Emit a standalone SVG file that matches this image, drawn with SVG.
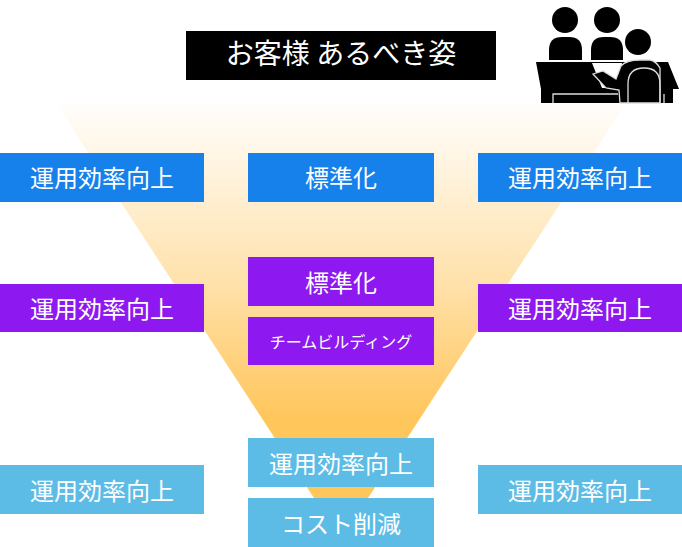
<svg xmlns="http://www.w3.org/2000/svg" width="682" height="547" viewBox="0 0 682 547">
<style>
text{font-family:"Noto Sans CJK JP","Noto Sans CJK SC",sans-serif;fill:#fff;text-anchor:middle;font-size:24px}
.b{fill:#1781eb}.p{fill:#8e19f0}.c{fill:#5cbce6}
.l{fill:none;stroke:#ddd;stroke-width:1.3}
</style>
<defs><linearGradient id="g" x1="0" y1="0" x2="0" y2="1"><stop offset="0" stop-color="#ffc65c" stop-opacity="0"/><stop offset="0.45" stop-color="#ffc65c" stop-opacity="0.5"/><stop offset="0.8" stop-color="#ffc65c"/><stop offset="1" stop-color="#ffc65c"/></linearGradient></defs>
<rect width="682" height="547" fill="#fff"/>
<g id="funnel"><polygon points="52,97 630,97 368,498 314,498" fill="url(#g)"/></g>
<g id="title"><rect x="186" y="31" width="310" height="49" fill="#000"/><text x="341" y="64" style="font-size:28px">お客様 あるべき姿</text></g>
<g id="people">
<circle cx="565" cy="20" r="13"/><circle cx="607" cy="20" r="13"/><circle cx="638" cy="42" r="13"/>
<path d="M549,60V50Q549,37 562,37H569Q582,37 582,50V60Z"/><path d="M591,60V50Q591,37 604,37H610Q623,37 623,50V60Z"/>
<path d="M536,62H668L679,89H673V103H541V89Z"/>
<path d="M592,63H622L621,88H602Z" fill="#fff"/>
<path d="M593,74L603,71L616,79L621,66Q626,60 640,60H650Q656,61 660,68V103H620L619,90L606,88Z" fill="#000" stroke="#ddd" stroke-width="1.3"/>
<path class="l" d="M628,103V84Q628,68 644,68Q660,68 660,84V103"/>
<path class="l" d="M553,103V94H618M664,103V94"/>
</g>
<g id="n1"><rect class="b" x="0" y="153" width="204" height="49"/><text x="102" y="187">運用効率向上</text></g>
<g id="n2"><rect class="b" x="248" y="153" width="186" height="49"/><text x="341" y="187">標準化</text></g>
<g id="n3"><rect class="b" x="478" y="153" width="204" height="49"/><text x="580" y="187">運用効率向上</text></g>
<g id="n4"><rect class="p" x="0" y="284" width="204" height="48"/><text x="102" y="318">運用効率向上</text></g>
<g id="n5"><rect class="p" x="248" y="257" width="186" height="49"/><text x="341" y="292">標準化</text></g>
<g id="n6"><rect class="p" x="248" y="317" width="186" height="48"/><text x="341" y="348" style="font-size:16px">チームビルディング</text></g>
<g id="n7"><rect class="p" x="478" y="284" width="204" height="48"/><text x="580" y="318">運用効率向上</text></g>
<g id="n8"><rect class="c" x="0" y="465" width="204" height="49"/><text x="102" y="500">運用効率向上</text></g>
<g id="n9"><rect class="c" x="248" y="438" width="186" height="49"/><text x="341" y="473">運用効率向上</text></g>
<g id="n10"><rect class="c" x="248" y="498" width="186" height="49"/><text x="341" y="533">コスト削減</text></g>
<g id="n11"><rect class="c" x="478" y="465" width="204" height="49"/><text x="580" y="500">運用効率向上</text></g>
<g id="connectors"></g>
</svg>
